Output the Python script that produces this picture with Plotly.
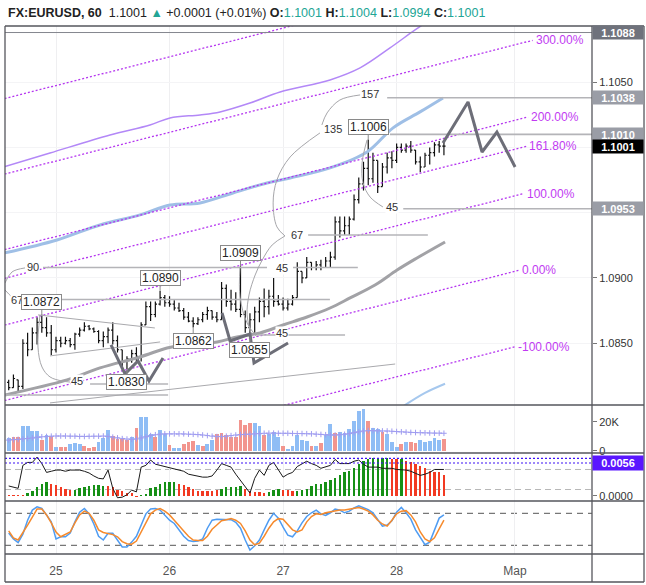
import plotly.graph_objects as go

# ---------------- data (hour index: 0 = 25 Feb 00:00) ----------------
hours = list(range(-10, 83))
day_tick_hours = [0, 24, 48, 72, 97]
day_tick_labels = ["25", "26", "27", "28", "Мар"]

open_ = [1.0820, 1.0816, 1.0822, 1.0817, 1.0850, 1.0845, 1.0858, 1.0866, 1.0862, 1.0858,
         1.0845, 1.0852, 1.0850, 1.0852, 1.0849, 1.0857, 1.0860, 1.0863, 1.0861, 1.0859,
         1.0852, 1.0855, 1.0860, 1.0852, 1.0845, 1.0836, 1.0838, 1.0842, 1.0840, 1.0864,
         1.0878, 1.0872, 1.0880, 1.0885, 1.0881, 1.0880, 1.0877, 1.0875, 1.0870, 1.0867,
         1.0865, 1.0868, 1.0872, 1.0875, 1.0870, 1.0868, 1.0892, 1.0882, 1.0880, 1.0876,
         1.0872, 1.0862, 1.0868, 1.0874, 1.0882, 1.0878, 1.0886, 1.0882, 1.0880, 1.0877,
         1.0880, 1.0885, 1.0905, 1.0900, 1.0912, 1.0908, 1.0910, 1.0908, 1.0913, 1.0916,
         1.0943, 1.0936, 1.0940, 1.0945, 1.0960, 1.0972, 1.0984, 1.0976, 1.0990, 1.0970,
         1.0985, 1.0992, 1.0990, 1.1000, 1.0998, 1.1001, 1.0998, 1.0989, 1.0985, 1.0994,
         1.0996, 1.1002, 1.1001]
high_ = [1.0822, 1.0826, 1.0822, 1.0853, 1.0858, 1.0862, 1.0870, 1.0872, 1.0870, 1.0864,
         1.0855, 1.0855, 1.0855, 1.0854, 1.0858, 1.0862, 1.0866, 1.0864, 1.0862, 1.0860,
         1.0859, 1.0862, 1.0866, 1.0856, 1.0845, 1.0840, 1.0845, 1.0847, 1.0866, 1.0882,
         1.0882, 1.0882, 1.0890, 1.0887, 1.0886, 1.0883, 1.0881, 1.0877, 1.0874, 1.0870,
         1.0870, 1.0874, 1.0878, 1.0875, 1.0874, 1.0897, 1.0895, 1.0891, 1.0889, 1.0909,
         1.0875, 1.0873, 1.0878, 1.0885, 1.0892, 1.0891, 1.0900, 1.0887, 1.0885, 1.0884,
         1.0887, 1.0912, 1.0905, 1.0916, 1.0912, 1.0913, 1.0914, 1.0916, 1.0920, 1.0947,
         1.0947, 1.0947, 1.0947, 1.0964, 1.0977, 1.0989, 1.1006, 1.0996, 1.0990, 1.0988,
         1.0996, 1.0997, 1.1003, 1.1003, 1.1003, 1.1005, 1.0998, 1.0993, 1.0996, 1.1000,
         1.1004, 1.1005, 1.1004]
low_ = [1.0814, 1.0816, 1.0813, 1.0815, 1.0840, 1.0845, 1.0849, 1.0858, 1.0855, 1.0841,
        1.0843, 1.0847, 1.0849, 1.0847, 1.0845, 1.0855, 1.0859, 1.0860, 1.0858, 1.0850,
        1.0847, 1.0850, 1.0849, 1.0843, 1.0832, 1.0830, 1.0835, 1.0836, 1.0836, 1.0864,
        1.0867, 1.0870, 1.0879, 1.0878, 1.0878, 1.0875, 1.0874, 1.0868, 1.0866, 1.0862,
        1.0864, 1.0866, 1.0868, 1.0868, 1.0866, 1.0868, 1.0878, 1.0875, 1.0874, 1.0870,
        1.0858, 1.0855, 1.0858, 1.0866, 1.0870, 1.0872, 1.0878, 1.0879, 1.0875, 1.0875,
        1.0879, 1.0885, 1.0896, 1.0900, 1.0906, 1.0906, 1.0906, 1.0908, 1.0908, 1.0914,
        1.0931, 1.0933, 1.0933, 1.0944, 1.0957, 1.0967, 1.0971, 1.0973, 1.0965, 1.0970,
        1.0980, 1.0984, 1.0988, 1.0996, 1.0996, 1.0996, 1.0987, 1.0981, 1.0985, 1.0987,
        1.0993, 1.0996, 1.0994]
close_ = [1.0816, 1.0823, 1.0817, 1.0850, 1.0845, 1.0858, 1.0866, 1.0862, 1.0858, 1.0845,
          1.0852, 1.0850, 1.0852, 1.0849, 1.0857, 1.0860, 1.0863, 1.0861, 1.0859, 1.0852,
          1.0855, 1.0860, 1.0852, 1.0845, 1.0836, 1.0838, 1.0842, 1.0840, 1.0864, 1.0878,
          1.0872, 1.0880, 1.0885, 1.0881, 1.0880, 1.0877, 1.0875, 1.0870, 1.0867, 1.0865,
          1.0868, 1.0872, 1.0875, 1.0870, 1.0868, 1.0892, 1.0882, 1.0880, 1.0876, 1.0872,
          1.0862, 1.0868, 1.0874, 1.0882, 1.0878, 1.0886, 1.0882, 1.0880, 1.0877, 1.0880,
          1.0885, 1.0905, 1.0900, 1.0912, 1.0908, 1.0910, 1.0908, 1.0913, 1.0916, 1.0943,
          1.0936, 1.0940, 1.0945, 1.0960, 1.0972, 1.0984, 1.0976, 1.0990, 1.0970, 1.0985,
          1.0992, 1.0990, 1.1000, 1.0998, 1.1001, 1.0998, 1.0989, 1.0985, 1.0994, 1.0996,
          1.1002, 1.1001, 1.1001]

volume_k = [8.7, 9.3, 9.3, 17.2, 17.2, 13.8, 13.8, 7.6, 10.8, 10.3,
            2.8, 2.8, 2.8, 4.6, 5.7, 5.1, 3.5, 2.3, 2.8, 6.2,
            9.2, 14.5, 10.3, 8.5, 8.0, 7.6, 9.9, 16.1, 23.4, 23.4,
            11.9, 9.9, 14.5, 11.9, 4.1, 1.8, 1.8, 5.1, 6.4, 7.1,
            4.1, 3.2, 4.6, 7.8, 11.9, 12.6, 11.3, 9.7, 9.7, 21.4,
            17.9, 19.3, 19.1, 17.5, 11.3, 11.9, 12.9, 9.9, 3.5, 1.1,
            3.5, 11.3, 7.6, 7.1, 3.5, 3.5,
            5.3, 11.0, 18.6, 12.2, 12.9, 12.2, 15.0, 20.7, 27.6, 29.0,
            20.7, 15.6, 15.0, 12.9, 11.5, 6.0, 2.8, 5.1, 6.0, 6.0,
            5.3, 7.6, 6.0, 7.1, 9.2, 7.5, 8.3]
volume_up = [1, 0, 0, 1, 1, 1, 1, 0, 1, 0,
             1, 0, 0, 1, 1, 1, 0, 0, 0, 1,
             1, 1, 0, 0, 0, 0, 1, 0, 1, 1,
             1, 0, 1, 1, 0, 1, 1, 0, 0, 0,
             1, 0, 1, 1, 0, 0, 0, 0, 0, 0,
             0, 0, 1, 1, 0, 1, 1, 1, 0, 1,
             1, 1, 1, 1, 0, 1,
             0, 1, 1, 0, 1, 1, 1, 1, 1, 1,
             0, 1, 1, 0, 1, 1, 1, 0, 1, 0,
             0, 1, 1, 1, 1, 1, 0]
volume_ma_k = [7.5, 7.8, 8.0, 8.3, 8.6, 9.0,
               9.5, 9.8, 10.0, 10.2, 10.3, 10.3, 10.3, 10.2, 10.2, 10.0, 10.0, 10.1, 10.2, 10.2, 10.3,
               10.0, 9.5, 9.0, 8.5, 8.2, 8.0, 8.3, 9.0, 9.8, 10.6,
               11.2, 11.6, 11.8, 11.8, 11.8, 11.8, 11.8, 11.6, 11.5, 11.3, 11.0, 10.6, 10.2, 9.9, 9.9,
               10.2, 10.6, 11.0, 11.3, 11.5, 11.6, 11.8, 12.0, 12.2, 12.3,
               12.3, 12.2, 12.2, 12.2, 12.1, 12.0, 12.0, 11.9, 11.8, 11.6, 11.4, 11.2,
               11.0, 11.0, 11.2, 11.5, 12.0, 12.6, 13.2, 13.8, 14.0, 14.0, 13.9, 13.8, 13.8,
               13.6, 13.4, 13.2, 13.0, 12.8, 12.7, 12.6, 12.5, 12.4, 12.3, 12.3, 12.2]

osc_hist = [0.0001, 0.0001, 0.0001, 0.0001, 0.00045, 0.0009, 0.0015, 0.0021, 0.0024, 0.0021,
            0.0019, 0.0015, 0.0012, 0.0011, 0.0011, 0.0014, 0.0015, 0.0017, 0.0018, 0.0018,
            0.0017, 0.0017, 0.0015, 0.0011, 0.0009, 0.00045, 0.00045, -0.00015, 0.0001, 0.0003,
            0.0013, 0.0015, 0.0020, 0.0024, 0.0024, 0.0024, 0.0021, 0.0018, 0.0015, 0.0012,
            0.0009, 0.0009, 0.0009, 0.0009, 0.0010, 0.0012, 0.0015, 0.0015, 0.0015, 0.0017,
            0.0012, 0.0009, 0.0006, 0.0006, 0.0005, 0.0006, 0.0010, 0.0012, 0.0011, 0.0010,
            0.0009, 0.0009, 0.0010, 0.0012, 0.0017, 0.0020,
            0.0021, 0.0024, 0.0027, 0.0030, 0.0036, 0.0041, 0.0043, 0.0048, 0.0054, 0.0059,
            0.0062, 0.0064, 0.0064, 0.0064, 0.0065, 0.0062, 0.0062, 0.0062, 0.0060, 0.0058,
            0.0055, 0.0051, 0.0048, 0.0043, 0.0040, 0.0040, 0.0036]
osc_hist_up = [0, 0, 0, 0, 1, 1, 1, 1, 1, 0,
               0, 0, 0, 0, 1, 1, 1, 1, 1, 1,
               1, 0, 0, 0, 0, 0, 0, 0, 1, 1,
               1, 1, 1, 1, 1, 1, 0, 0, 0, 0,
               0, 0, 0, 0, 0, 1, 1, 1, 1, 1,
               0, 0, 0, 0, 0, 1, 1, 1, 0, 0,
               0, 1, 1, 1, 1, 1,
               1, 1, 1, 1, 1, 1, 1, 1, 1, 1,
               1, 1, 1, 1, 1, 0, 0, 1, 0, 0,
               0, 0, 0, 0, 0, 0, 0]
osc_line = [0.0017, 0.0015, 0.0013, 0.0052, 0.0057, 0.0057, 0.0066, 0.0055, 0.0040, 0.0042,
            0.0044, 0.0044, 0.0042, 0.0044, 0.0044, 0.0044, 0.0042, 0.0039, 0.0034, 0.0030,
            0.0029, 0.0044, 0.0013, -0.0003, -0.0002, 0.0002, 0.0010, 0.0007, 0.0049, 0.0052,
            0.0061, 0.0054, 0.0052, 0.0050, 0.0049, 0.0047, 0.0045, 0.0042, 0.0037, 0.0035,
            0.0034, 0.0032, 0.0032, 0.0034, 0.0044, 0.0055, 0.0052, 0.0049, 0.0037, 0.0027,
            0.0015, 0.0005, 0.0030, 0.0044, 0.0035, 0.0052, 0.0057, 0.0044, 0.0032, 0.0037,
            0.0040, 0.0050, 0.0054, 0.0059, 0.0055, 0.0052, 0.0047, 0.0049, 0.0052, 0.0062,
            0.0055, 0.0055, 0.0055, 0.0059, 0.0061, 0.0054, 0.0049, 0.0049, 0.0049, 0.0047,
            0.0047, 0.0047, 0.0045, 0.0045, 0.0044, 0.0042, 0.0039, 0.0035, 0.0037, 0.0040,
            0.0045, 0.0045, 0.0045]
osc_levels_blue = [0.0064, 0.0056]
osc_levels_gray = [0.0045, 0.0011]

stoch_k = [43, 32, 25, 41, 67, 86, 92, 89, 77, 64,
           32, 36, 36, 43, 64, 82, 89, 79, 60, 37,
           30, 42.5, 42.5, 30, 17, 17, 26, 37, 58, 79,
           88, 89, 86, 77, 67, 61, 50, 37, 29, 27,
           28, 32, 52, 67, 69, 69, 69, 68, 63, 52,
           30, 11, 19, 30, 49, 67, 80, 71, 54, 39,
           36, 47, 62, 74, 81, 86, 79, 76, 81, 88,
           86, 81, 84, 90, 94, 91, 87, 81, 68, 56,
           58, 66, 82, 91, 81, 69, 49, 34, 21, 26,
           49, 71, 77]
stoch_d = [47, 34, 30, 43, 58, 73, 88, 88, 77, 62,
           45, 36, 40, 45, 62, 77, 84, 80, 67, 49,
           44, 42, 40, 36, 27, 23, 22, 28, 45, 64,
           79, 86, 89, 84, 77, 67, 56, 47, 37, 30,
           29, 29, 37, 50, 58, 66, 68, 70, 67, 61,
           47, 30, 21, 24, 37, 52, 64, 70, 69, 60,
           49, 45, 49, 64, 74, 79, 78, 81, 83, 85,
           86, 86, 88, 90, 91, 88, 84, 77, 67, 60,
           56, 67, 79, 84, 85, 77, 64, 45, 32, 27,
           34, 51, 67]
stoch_levels = [80, 20]

# indicator curves on the price pane (read at key points)
upper_band_h = [-10.78, -1.27, 11.42, 19.87, 24.1, 30.44, 34.67, 41.0, 47.36, 57.93, 64.27, 70.6, 75.9, 79.07]
upper_band_p = [1.09853, 1.09957, 1.10095, 1.10172, 1.10226, 1.10249, 1.10272, 1.10340, 1.10425, 1.10517,
                1.10609, 1.10762, 1.10900, 1.10976]
blue_ma_h = [-10.78, 0.21, 9.3, 17.76, 24.1, 30.44, 37.4, 44.6, 49.5, 57.93, 65.75, 71.25, 76.95, 81.8]
blue_ma_p = [1.09192, 1.09291, 1.09406, 1.09483, 1.09559, 1.09575, 1.09651, 1.09728, 1.09766, 1.09843,
             1.09965, 1.1015, 1.10272, 1.10379]
gray_ma_h = [-10.78, 2.33, 9.3, 17.76, 23.47, 26.85, 34.04, 38.27, 43.13, 47.99, 53.06, 57.93, 62.16,
             67.44, 72.1, 76.3, 82.24]
gray_ma_p = [1.08104, 1.08219, 1.08311, 1.08395, 1.08464, 1.08487, 1.08510, 1.08548, 1.08579, 1.08640,
             1.08701, 1.08770, 1.08847, 1.08946, 1.09061, 1.09153, 1.09276]
lower_band_h = [73.5, 78.0, 82.24]
lower_band_p = [1.0802, 1.0812, 1.0819]

# Fibonacci channel
chan_h = [-10.78, 97.9]
chan_p = [1.08062, 1.09059]
chan_width = 0.005783
chan_levels = [-1, 0, 1, 1.618, 2, 3, 4]
chan_end_shift = 0.95

# horizontal drawing lines (start hour, end hour, price)
hline_start = [-10.78, 70.0, 70.6, 73.4, 53.3, -2.75, 50.1, -6.55, 42.5, 7.2, -10.78]
hline_end = [113.3, 113.3, 113.3, 113.3, 78.6, 44.6, 63.8, 57.9, 61.1, 23.7, 23.7]
hline_price = [1.1088, 1.1038, 1.1010, 1.0953, 1.09329, 1.0908, 1.0908, 1.08835, 1.08563, 1.08188, 1.08104]
hline_dark = [1, 0, 0, 0, 0, 0, 0, 0, 0, 0, 0]

# slanted thin lines
seg_h = [[-1.27, 71.7], [-3.8, 20.9], [-1.27, 22.0]]
seg_p = [[1.08043, 1.08341], [1.08717, 1.08617], [1.08403, 1.0851]]

# arcs
arc_h = [[-3.38, -3.81, -2.96, -1.27, 1.27, 2.96],
         [-10.78, -9.3, -6.55],
         [-10.78, -9.3, -8.25],
         [38.9, 38.9, 40.4, 42.5],
         [41.4, 40.4, 40.8, 42.1, 43.6, 45.7, 48.4],
         [48.4, 46.7, 45.9, 46.7, 49.5, 55.8],
         [56.2, 57.3, 60.0, 64.3],
         [65.75, 64.7, 64.9, 66.4, 69.1]]
arc_p = [[1.08717, 1.08471, 1.08318, 1.08242, 1.08211, 1.08203],
         [1.08962, 1.09046, 1.09077],
         [1.08908, 1.08854, 1.08831],
         [1.09084, 1.08854, 1.08655, 1.08548],
         [1.08548, 1.08717, 1.0887, 1.09023, 1.09138, 1.09253, 1.09322],
         [1.09322, 1.09391, 1.09575, 1.09751, 1.09927, 1.10111],
         [1.10172, 1.10264, 1.10363, 1.10402],
         [1.10057, 1.09881, 1.09728, 1.0962, 1.09544]]

# projected zig-zag paths
zz_h = [[11.63, 14.59, 17.34, 19.66, 22.62],
        [35.1, 36.8, 41.0, 41.86, 49.05],
        [81.8, 87.1, 90.06, 93.2, 97.04]]
zz_p = [[1.08487, 1.08265, 1.08364, 1.08211, 1.08387],
        [1.08732, 1.08517, 1.08571, 1.08349, 1.08502],
        [1.10034, 1.10348, 1.09965, 1.10118, 1.0985]]

angle_text = ["157", "135", "45", "67", "45", "45", "90", "67", "45"]
angle_h = [66.4, 58.6, 71.0, 50.95, 47.8, 47.8, -4.86, -8.25, 4.44]
angle_p = [1.10409, 1.10141, 1.09544, 1.09329, 1.09077, 1.08579, 1.09084, 1.08831, 1.0821]

callout_h = [-3, 22, 39, 29, 41, 15, 66]
callout_p = [1.0872, 1.0890, 1.0909, 1.0862, 1.0855, 1.0830, 1.1006]
callout_up = [1, 1, 1, 0, 0, 0, 1]

axis_label_p = [1.1088, 1.1038, 1.1010, 1.0953, 1.1001]
axis_label_bg = ["#6f727c", "#9a9da6", "#9a9da6", "#9a9da6", "#000000"]

# ---------------- figure ----------------
X_MIN, X_MAX = -10.78, 113.3
P_MIN, P_MAX = 1.08027, 1.1093
FONT = "Liberation Sans, Arial, sans-serif"
CH_COLOR = "#b536f0"

fig = go.Figure()


def add_line(h, p, color, width, dash=None, shape="linear", xa="x", ya="y"):
    fig.add_trace(go.Scatter(x=h, y=p, mode="lines",
                             line=dict(color=color, width=width, dash=dash, shape=shape),
                             xaxis=xa, yaxis=ya, hoverinfo="skip", showlegend=False))


annotations = []

# indicator curves
add_line(upper_band_h, upper_band_p, "#b388f7", 1.5, shape="spline")
add_line(blue_ma_h, blue_ma_p, "#9fbfe6", 3, shape="spline")
add_line(gray_ma_h, gray_ma_p, "#a2a2a6", 3, shape="spline")
add_line(lower_band_h, lower_band_p, "#a6c8ee", 2, shape="spline")

# Fibonacci channel
slope = (chan_p[1] - chan_p[0]) / (chan_h[1] - chan_h[0])
for lvl in chan_levels:
    h_end = chan_h[1] + lvl * chan_end_shift
    h_start = X_MIN - 5
    p_start = chan_p[0] + slope * (h_start - chan_h[0]) + lvl * chan_width
    p_end = chan_p[0] + slope * (h_end - chan_h[0]) + lvl * chan_width
    add_line([h_start, h_end], [p_start, p_end], CH_COLOR, 1.3, dash="2px,2px")
    if P_MIN < p_end < P_MAX:
        annotations.append(dict(x=h_end, y=p_end, xref="x", yref="y", text=f"{lvl * 100:.2f}%",
                                showarrow=False, xanchor="left", yanchor="middle", xshift=1,
                                font=dict(color="#c13af2", size=12, family=FONT)))

# horizontal lines
for h0, h1, p, dark in zip(hline_start, hline_end, hline_price, hline_dark):
    add_line([h0, h1], [p, p], "#85878f" if dark else "#b4b4b8", 1 if dark else 1.6)

for h, p in zip(seg_h, seg_p):
    add_line(h, p, "#a9a9ad", 1)

for h, p in zip(arc_h, arc_p):
    add_line(h, p, "#a6a6aa", 1, shape="spline")

# price bars
fig.add_trace(go.Ohlc(x=hours, open=open_, high=high_, low=low_, close=close_,
                      increasing=dict(line=dict(color="#111111", width=1.2)),
                      decreasing=dict(line=dict(color="#111111", width=1.2)),
                      tickwidth=0.35, xaxis="x", yaxis="y", hoverinfo="skip", showlegend=False))

for h, p in zip(zz_h, zz_p):
    add_line(h, p, "#6d6e78", 3)

# volume pane
fig.add_trace(go.Bar(x=hours, y=volume_k, width=0.8,
                     marker=dict(color=["#8fbdf5" if u else "#f2958e" for u in volume_up], line=dict(width=0)),
                     xaxis="x2", yaxis="y2", hoverinfo="skip", showlegend=False))
fig.add_trace(go.Scatter(x=hours, y=volume_ma_k, mode="lines+markers",
                         line=dict(color="#a9a6f2", width=1, dash="dot"),
                         marker=dict(symbol="cross-thin", size=4, line=dict(color="#9f9cf0", width=1)),
                         xaxis="x2", yaxis="y2", hoverinfo="skip", showlegend=False))

# oscillator pane
fig.add_trace(go.Bar(x=hours, y=osc_hist, width=0.5,
                     marker=dict(color=["#169016" if u else "#f23a22" for u in osc_hist_up], line=dict(width=0)),
                     xaxis="x3", yaxis="y3", hoverinfo="skip", showlegend=False))
add_line(hours, osc_line, "#1a1a1a", 1, xa="x3", ya="y3")

# stochastic pane
add_line(hours, stoch_k, "#4f9cf2", 1.5, xa="x4", ya="y4")
add_line(hours, stoch_d, "#f68a2c", 1.5, xa="x4", ya="y4")

# angle labels
for t, h, p in zip(angle_text, angle_h, angle_p):
    annotations.append(dict(x=h, y=p, xref="x", yref="y", text=t, showarrow=False,
                            bgcolor="white", font=dict(color="#333333", size=11, family=FONT),
                            borderpad=0))

# price callouts
for h, p, up in zip(callout_h, callout_p, callout_up):
    annotations.append(dict(x=h, y=p, xref="x", yref="y", text=f"{p:.4f}", showarrow=True,
                            arrowhead=0, arrowwidth=1, arrowcolor="#8a8a8a", ax=0, ay=-13 if up else 13,
                            bgcolor="white", bordercolor="#8a8a8a", borderwidth=1, borderpad=1,
                            height=12, font=dict(color="#222222", size=12, family=FONT)))

# right-axis price labels
for p, bg in zip(axis_label_p, axis_label_bg):
    annotations.append(dict(x=1.0, y=p, xref="paper", yref="y", text=f"<b>{p:.4f}</b>", showarrow=False,
                            xanchor="left", yanchor="middle", bgcolor=bg, width=50, height=13,
                            borderpad=0, align="center", font=dict(color="white", size=11, family=FONT)))
annotations.append(dict(x=1.0, y=osc_levels_blue[1], xref="paper", yref="y3", text="<b>0.0056</b>",
                        showarrow=False, xanchor="left", yanchor="middle", bgcolor="#5a16ff", width=50,
                        height=14, borderpad=0, align="center", font=dict(color="white", size=11, family=FONT)))

# header
teal = "#22a595"
header = ("<b>FX:EURUSD, 60</b>  1.1001 <span style='color:%s'>▲</span> +0.0001 (+0.01%%) "
          "<b>O:</b><span style='color:%s'>1.1001</span> <b>H:</b><span style='color:%s'>1.1004</span> "
          "<b>L:</b><span style='color:%s'>1.0994</span> <b>C:</b><span style='color:%s'>1.1001</span>"
          % (teal, teal, teal, teal, teal))
annotations.append(dict(x=0, y=1.0246, xref="paper", yref="paper", text=header, showarrow=False,
                        xanchor="left", yanchor="middle", xshift=1,
                        font=dict(color="#222222", size=12.5, family=FONT)))

# level lines in lower panes and frame
shapes = []
for v in osc_levels_blue:
    shapes.append(dict(type="line", xref="paper", yref="y3", x0=0, x1=1, y0=v, y1=v,
                       line=dict(color="#3c10f5", width=1.2, dash="2px,2px")))
for v in osc_levels_gray:
    shapes.append(dict(type="line", xref="paper", yref="y3", x0=0, x1=1, y0=v, y1=v, layer="below",
                       line=dict(color="#b8b8b8", width=1, dash="6px,4px")))
for v in stoch_levels:
    shapes.append(dict(type="line", xref="paper", yref="y4", x0=0, x1=1, y0=v, y1=v, layer="below",
                       line=dict(color="#555555", width=1, dash="6px,5px")))
frame_color = "#55565c"
for yy in [1.0, 0.2822, 0.1913, 0.1004, 0.0, -0.053]:
    shapes.append(dict(type="line", xref="paper", yref="paper", x0=0, x1=1.0886, y0=yy, y1=yy,
                       line=dict(color=frame_color, width=1.3)))
for xx in [0, 1.0, 1.0886]:
    shapes.append(dict(type="line", xref="paper", yref="paper", x0=xx, x1=xx, y0=-0.053, y1=1.0,
                       line=dict(color=frame_color, width=1.3)))

xcommon = dict(range=[X_MIN, X_MAX], tickvals=day_tick_hours, showgrid=True, gridcolor="#efeff1",
               zeroline=False, showline=False, fixedrange=True, automargin=False)
ycommon = dict(side="right", zeroline=False, showline=False, fixedrange=True, automargin=False,
               ticks="outside", ticklen=4, tickcolor="#777777", tickfont=dict(size=11, color="#333333", family=FONT))

fig.update_layout(
    width=646, height=585, paper_bgcolor="white", plot_bgcolor="white",
    margin=dict(l=5, r=54, t=26, b=31), showlegend=False, bargap=0,
    font=dict(family=FONT),
    xaxis=dict(**xcommon, anchor="y", showticklabels=False, rangeslider=dict(visible=False)),
    xaxis2=dict(**xcommon, anchor="y2", matches="x", showticklabels=False),
    xaxis3=dict(**xcommon, anchor="y3", matches="x", showticklabels=False),
    xaxis4=dict(**xcommon, anchor="y4", matches="x", ticktext=day_tick_labels, ticks="",
                tickfont=dict(size=12, color="#555555", family=FONT), ticklabelstandoff=8),
    yaxis=dict(**ycommon, domain=[0.2822, 1.0], range=[P_MIN, P_MAX], anchor="x",
               tickvals=[1.085, 1.09, 1.095, 1.10, 1.105], ticktext=["1.0850", "1.0900", "", "", "1.1050"],
               showgrid=True, gridcolor="#f4f4f6"),
    yaxis2=dict(**ycommon, domain=[0.1913, 0.2822], range=[-1.4, 31.7], anchor="x2",
                tickvals=[0, 20], ticktext=["0", "20K"], showgrid=False),
    yaxis3=dict(**ycommon, domain=[0.1004, 0.1913], range=[-0.00085, 0.0073], anchor="x3",
                tickvals=[0], ticktext=["0.0000"], showgrid=False),
    yaxis4=dict(side="right", domain=[0.0, 0.1004], range=[3.7, 103.1], anchor="x4", showticklabels=False,
                showgrid=False, zeroline=False, fixedrange=True, automargin=False),
    annotations=annotations, shapes=shapes,
)

fig.write_html("out.html", config={"displayModeBar": False, "staticPlot": True},
               post_script="document.body.style.margin='0';document.body.style.overflow='hidden';")
